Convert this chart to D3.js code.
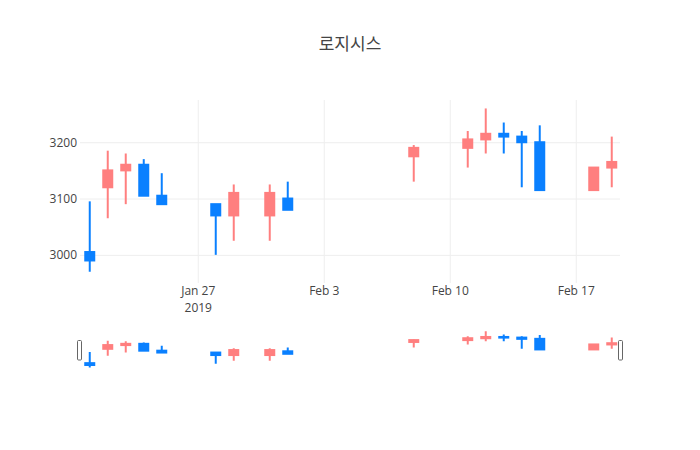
<!DOCTYPE html>
<html>
<head>
<meta charset="utf-8">
<script src="https://cdn.jsdelivr.net/npm/d3@7.9.0/dist/d3.min.js"></script>
<style>
  body { margin: 0; background: #fff; }
  svg text { font-family: 'Open Sans', 'Noto Sans CJK KR', sans-serif; fill: #444; }
</style>
</head>
<body>
<div id="chart"></div>
<script>
// 로지시스 daily prices, Jan–Feb 2019
const dates = ['2019-01-21', '2019-01-22', '2019-01-23', '2019-01-24', '2019-01-25',
  '2019-01-28', '2019-01-29', '2019-01-31', '2019-02-01', '2019-02-08',
  '2019-02-11', '2019-02-12', '2019-02-13', '2019-02-14', '2019-02-15',
  '2019-02-18', '2019-02-19'];
const opens  = [3005, 3120, 3150, 3160, 3105, 3090, 3070, 3070, 3100, 3175, 3190, 3205, 3215, 3210, 3200, 3115, 3155];
const highs  = [3095, 3185, 3180, 3170, 3145, 3090, 3125, 3125, 3130, 3195, 3220, 3260, 3235, 3220, 3230, 3155, 3210];
const lows   = [2970, 3065, 3090, 3105, 3090, 3000, 3025, 3025, 3080, 3130, 3155, 3180, 3180, 3120, 3115, 3115, 3120];
const closes = [2990, 3150, 3160, 3105, 3090, 3070, 3110, 3110, 3080, 3190, 3205, 3215, 3210, 3200, 3115, 3155, 3165];
const yTicks = [3000, 3100, 3200];
const xTicks = ['2019-01-27', '2019-02-03', '2019-02-10', '2019-02-17'];

const upColor = '#ff7f7f';
const downColor = '#0a80ff';

const width = 700, height = 450;
const plot = { left: 80, right: 620, top: 100, bottom: 283 };
const slider = { top: 329.5, bottom: 370 };

const parse = d3.timeParse('%Y-%m-%d');
const rows = dates.map((d, i) => ({
  date: parse(d), open: opens[i], high: highs[i], low: lows[i], close: closes[i]
}));

const svg = d3.select('#chart').append('svg')
  .attr('width', width).attr('height', height);

const xScale = d3.scaleTime()
  .domain([new Date(2019, 0, 20, 11), new Date(2019, 1, 19, 11)])
  .range([plot.left, plot.right]);

const yScale = d3.scaleLinear()
  .domain([2950, 3275])
  .range([plot.bottom, plot.top]);

const ySlider = yScale.copy().range([slider.bottom, slider.top]);

// title
svg.append('text')
  .attr('x', width / 2).attr('y', 50)
  .attr('text-anchor', 'middle')
  .style('font-size', '17px')
  .text('로지시스');

// gridlines
const grid = svg.append('g');
grid.append('g')
  .attr('transform', `translate(${plot.left},0)`)
  .call(d3.axisLeft(yScale).tickValues(yTicks).tickFormat('').tickSize(-(plot.right - plot.left)))
  .call(g => g.select('.domain').remove())
  .call(g => g.selectAll('line').attr('stroke', '#eee'));
grid.append('g')
  .attr('transform', `translate(0,${plot.bottom})`)
  .call(d3.axisBottom(xScale).tickValues(xTicks.map(parse)).tickFormat('').tickSize(-(plot.bottom - plot.top)))
  .call(g => g.select('.domain').remove())
  .call(g => g.selectAll('line').attr('stroke', '#eee'));

// y tick labels
svg.append('g')
  .attr('transform', `translate(${plot.left - 3},0)`)
  .call(d3.axisLeft(yScale).tickValues(yTicks).tickSize(0).tickPadding(0).tickFormat(d3.format('d')))
  .call(g => g.select('.domain').remove())
  .call(g => g.selectAll('text').style('font-size', '12px').attr('fill', '#444'));

// x tick labels (month day, year under the first one)
const xLab = svg.append('g')
  .attr('transform', `translate(0,${plot.bottom})`)
  .call(d3.axisBottom(xScale).tickValues(xTicks.map(parse)).tickSize(0).tickPadding(0).tickFormat(''))
  .call(g => g.select('.domain').remove());
xLab.selectAll('.tick text').remove();
xLab.selectAll('.tick').each(function (d, i) {
  const tick = d3.select(this);
  tick.append('text')
    .attr('text-anchor', 'middle')
    .style('font-size', '12px')
    .attr('y', 11.5)
    .text(d3.timeFormat('%b %-d')(d));
  if (i === 0) {
    tick.append('text')
      .attr('text-anchor', 'middle')
      .style('font-size', '12px')
      .attr('y', 28.5)
      .text('2019');
  }
});

function drawCandles(g, y, clipId, top, bottom) {
  svg.append('clipPath').attr('id', clipId)
    .append('rect').attr('x', plot.left).attr('y', top)
    .attr('width', plot.right - plot.left).attr('height', bottom - top);
  const c = g.attr('clip-path', `url(#${clipId})`)
    .selectAll('g').data(rows).join('g');
  const col = d => d.close >= d.open ? upColor : downColor;
  c.append('line')
    .attr('x1', d => xScale(d.date)).attr('x2', d => xScale(d.date))
    .attr('y1', d => y(d.high)).attr('y2', d => y(d.low))
    .attr('stroke', col).attr('stroke-width', 2);
  c.append('rect')
    .attr('x', d => xScale(d.date) - 4.5)
    .attr('width', 9)
    .attr('y', d => y(Math.max(d.open, d.close)))
    .attr('height', d => Math.abs(y(d.open) - y(d.close)))
    .attr('fill', col).attr('stroke', col).attr('stroke-width', 2);
}

drawCandles(svg.append('g'), yScale, 'clip-main', plot.top, plot.bottom);
drawCandles(svg.append('g'), ySlider, 'clip-slider', slider.top, slider.bottom);

// range slider grabbers
[plot.left - 2.5, plot.right - 1.5].forEach(x => {
  svg.append('rect')
    .attr('x', x).attr('y', 340.5)
    .attr('width', 4).attr('height', 19.5)
    .attr('rx', 1).attr('ry', 1)
    .attr('fill', '#fff').attr('stroke', '#666').attr('stroke-width', 1);
});
</script>
</body>
</html>
